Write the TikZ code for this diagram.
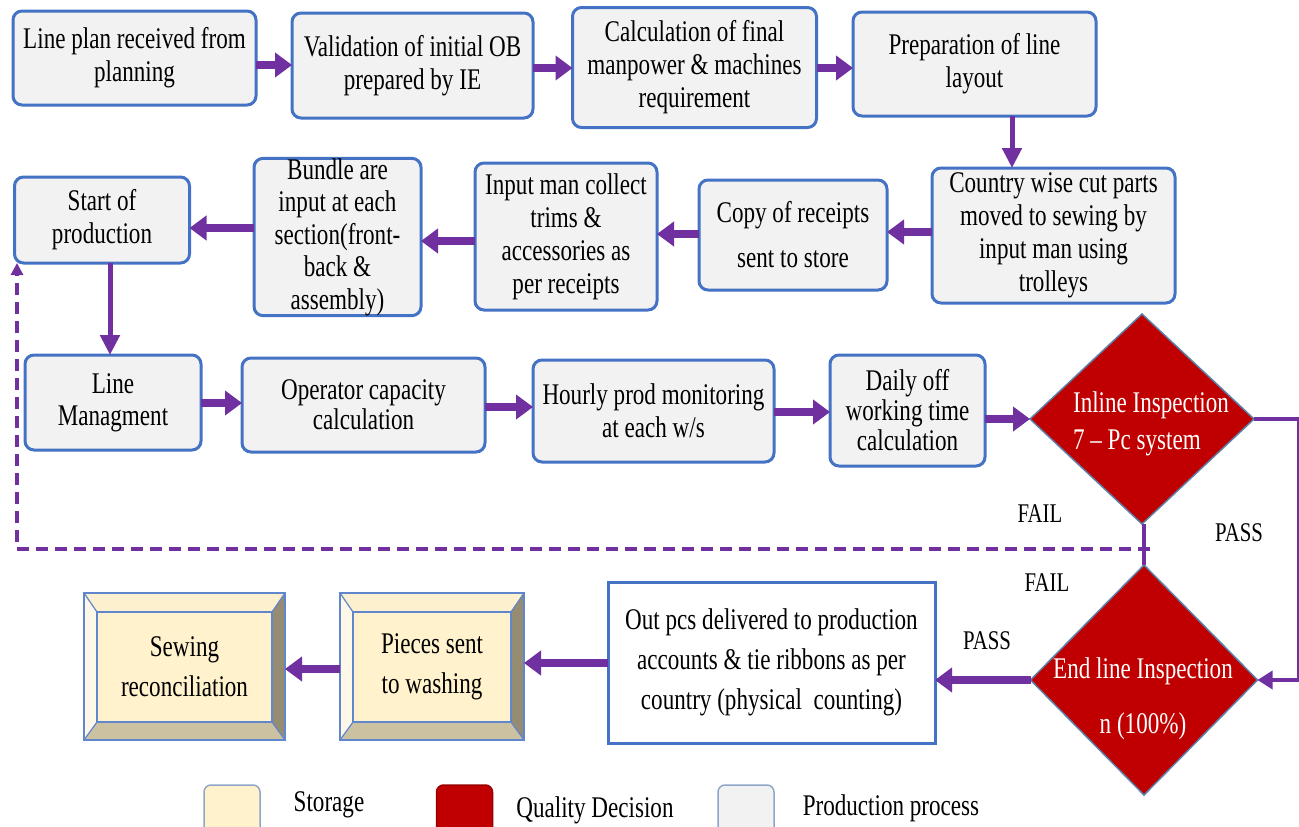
\documentclass[tikz,border=0pt]{standalone}
\usepackage{fontspec}
\setmainfont{Liberation Serif}[FakeStretch=0.77]
\usetikzlibrary{arrows.meta,shapes.geometric,calc}
\definecolor{boxblue}{HTML}{4472C4}
\definecolor{boxgray}{HTML}{F2F2F2}
\definecolor{flowpurple}{HTML}{7030A0}
\definecolor{qred}{HTML}{C00000}
\definecolor{cream}{HTML}{FFF2CC}
\definecolor{bevleft}{HTML}{FFF8E8}
\definecolor{bevtop}{HTML}{FDF0CE}
\definecolor{bevright}{HTML}{968C71}
\definecolor{bevbottom}{HTML}{CCC2A2}
\definecolor{diamondedge}{HTML}{5B7FA6}
\definecolor{legedge}{HTML}{8FA6C8}

\tikzset{
  proc/.style={draw=boxblue, line width=3pt, fill=boxgray, rounded corners=9pt,
    align=center, inner sep=0pt, outer sep=0pt, font=\fontsize{30}{33}\selectfont},
  plainbox/.style={draw=boxblue, line width=3pt, fill=white, align=center,
    inner sep=0pt, outer sep=0pt, font=\fontsize{30}{40}\selectfont},
  storage/.style={fill=cream, align=center, inner sep=0pt, outer sep=0pt,
    font=\fontsize{30}{40}\selectfont},
  bevline/.style={draw=boxblue!85, line width=1.2pt},
  decision/.style={shape=diamond, draw=diamondedge, line width=1.5pt, fill=qred,
    inner sep=0pt, outer sep=0pt},
  dtext/.style={text=white, inner sep=0pt},
  flowlabel/.style={font=\fontsize{27}{30}\selectfont, inner sep=0pt},
  legtext/.style={font=\fontsize{30}{33}\selectfont, inner sep=0pt},
  legsq/.style={rounded corners=7pt, line width=1.5pt, minimum width=56pt,
    minimum height=64pt, inner sep=0pt},
  bigarrow/.style={draw=flowpurple, line width=8pt, -{Triangle[length=17pt,width=24pt]}},
  midarrow/.style={draw=flowpurple, line width=5pt, -{Triangle[length=20pt,width=19pt]}},
  thinline/.style={draw=flowpurple, line width=3.5pt},
  thinarrow/.style={thinline, -{Triangle[length=15pt,width=18pt]}},
  dasharrow/.style={draw=flowpurple, line width=3.5pt, dash pattern=on 12pt off 7pt,
    -{Triangle[length=12pt,width=12pt]}},
}

% bevelled frame around a storage node
\newcommand\bevelframe[1]{%
  \fill[bevleft] (#1.north west) -- ([shift={(13pt,-19pt)}]#1.north west)
    -- ([shift={(13pt,18pt)}]#1.south west) -- (#1.south west) -- cycle;
  \fill[bevtop] (#1.north west) -- (#1.north east)
    -- ([shift={(-13pt,-19pt)}]#1.north east) -- ([shift={(13pt,-19pt)}]#1.north west) -- cycle;
  \fill[bevright] (#1.north east) -- (#1.south east)
    -- ([shift={(-13pt,18pt)}]#1.south east) -- ([shift={(-13pt,-19pt)}]#1.north east) -- cycle;
  \fill[bevbottom] (#1.south west) -- (#1.south east)
    -- ([shift={(-13pt,18pt)}]#1.south east) -- ([shift={(13pt,18pt)}]#1.south west) -- cycle;
  \draw[bevline] (#1.north west) rectangle (#1.south east);
  \draw[bevline] ([shift={(13pt,-19pt)}]#1.north west) rectangle ([shift={(-13pt,18pt)}]#1.south east);
  \draw[bevline] (#1.north west) -- ([shift={(13pt,-19pt)}]#1.north west);
  \draw[bevline] (#1.north east) -- ([shift={(-13pt,-19pt)}]#1.north east);
  \draw[bevline] (#1.south west) -- ([shift={(13pt,18pt)}]#1.south west);
  \draw[bevline] (#1.south east) -- ([shift={(-13pt,18pt)}]#1.south east);
}

\begin{document}
\begin{tikzpicture}[x=1pt,y=-1pt]
\useasboundingbox (0,0) rectangle (1299,827);
\clip (0,0) rectangle (1299,827);
\fill[white] (0,0) rectangle (1299,827);

% first row
\node[proc, minimum width=243, minimum height=94] (A1) at (134.5,58) {Line plan received from\\planning};
\node[proc, minimum width=241, minimum height=105] (A2) at (412.5,65.5) {Validation of initial OB\\prepared by IE};
\node[proc, minimum width=244, minimum height=120] (A3) at (694.5,67.5) {Calculation of final\\manpower \& machines\\requirement};
\node[proc, minimum width=243, minimum height=104] (A4) at (974.5,64) {Preparation of line\\layout};

% second row
\node[proc, minimum width=243, minimum height=135] (B1) at (1053.5,235.5) {Country wise cut parts\\moved to sewing by\\input man using\\trolleys};
\node[proc, minimum width=188, minimum height=110, font=\fontsize{30}{45}\selectfont] (B2) at (793,235) {Copy of receipts\\sent to store};
\node[proc, minimum width=182, minimum height=147] (B3) at (566,236.5) {Input man collect\\trims \&\\accessories as\\per receipts};
\node[proc, minimum width=167, minimum height=156, font=\fontsize{30}{32.5}\selectfont] (B4) at (337.5,237) {Bundle are\\input at each\\section(front-\\back \&\\assembly)};
\node[proc, minimum width=175, minimum height=86] (B5) at (102,220) {Start of\\production};

% third row
\node[proc, minimum width=176, minimum height=95, font=\fontsize{30}{32}\selectfont] (C1) at (113,402.5) {Line\\Managment};
\node[proc, minimum width=243, minimum height=94, font=\fontsize{30}{30}\selectfont] (C2) at (363.5,405) {Operator capacity\\calculation};
\node[proc, minimum width=241, minimum height=102] (C3) at (653.5,411) {Hourly prod monitoring\\at each w/s};
\node[proc, minimum width=155, minimum height=111, font=\fontsize{30}{30}\selectfont] (C4) at (907.5,410.5) {Daily off\\working time\\calculation};

% quality decisions
\node[decision, minimum width=224, minimum height=210] (D1) at (1142,419) {};
\node[dtext, align=left, font=\fontsize{30}{37}\selectfont] (D1t) at (1151,423.5) {Inline Inspection\\7 – Pc system};
\node[decision, minimum width=227, minimum height=230] (D2) at (1144,680) {};
\node[dtext, align=center, font=\fontsize{30}{55}\selectfont] (D2t) at (1143,698.5) {End line Inspection\\n (100\%)};

% last row
\node[plainbox, minimum width=327, minimum height=161] (E1) at (771.5,662.5) {Out pcs delivered to production\\accounts \& tie ribbons as per\\country (physical\ \ counting)};
\node[storage, minimum width=184, minimum height=147] (E2) at (432,666.5) {Pieces sent\\to washing};
\bevelframe{E2}
\node[storage, minimum width=201, minimum height=147] (E3) at (184.5,666.5) {Sewing\\reconciliation};
\bevelframe{E3}

% connectors, first and second row
\draw[bigarrow] (A1.east |- 0,65) -- (A2.west |- 0,65);
\draw[bigarrow] (A2.east |- 0,68) -- (A3.west |- 0,68);
\draw[bigarrow] (A3.east |- 0,68) -- (A4.west |- 0,68);
\draw[midarrow] (A4.south -| 1012,0) -- (B1.north -| 1012,0);
\draw[bigarrow] (B1.west |- 0,232) -- (B2.east |- 0,232);
\draw[bigarrow] (B2.west |- 0,234) -- (B3.east |- 0,234);
\draw[bigarrow] (B3.west |- 0,241) -- (B4.east |- 0,241);
\draw[bigarrow] (B4.west |- 0,228) -- (B5.east |- 0,228);
\draw[midarrow] (B5.south -| 110,0) -- (C1.north -| 110,0);

% third row
\draw[bigarrow] (C1.east |- 0,403) -- (C2.west |- 0,403);
\draw[bigarrow] (C2.east |- 0,407) -- (C3.west |- 0,407);
\draw[bigarrow] (C3.east |- 0,412) -- (C4.west |- 0,412);
\draw[bigarrow] (C4.east |- D1.west) -- (D1.west);

% decisions
\draw[thinline] (D2.north |- D1.south) -- (D2.north);
\draw[thinarrow] (D1.east) -- ++(45,0) |- (D2.east);
\coordinate (fb) at (1150,549);
\coordinate (fl) at (17,549);
\draw[dasharrow] (fb) -- (fl) -- (fl |- B5.south);
\node[flowlabel] (fail1) at (1040,514) {FAIL};
\node[flowlabel] (pass1) at (1239,533) {PASS};
\node[flowlabel] (fail2) at (1047,583) {FAIL};
\node[flowlabel] (pass2) at (987,641) {PASS};

% last row
\draw[bigarrow] (D2.west) -- (D2.west -| E1.east);
\draw[bigarrow] (E1.west |- 0,663) -- (E2.east |- 0,663);
\draw[bigarrow] (E2.west |- 0,669) -- (E3.east |- 0,669);

% legend
\node[legsq, fill=cream, draw=legedge] (legS) at (232,817) {};
\node[legtext] (legSt) at (329,805) {Storage};
\node[legsq, fill=qred, draw=qred!80!black] (legQ) at (464.5,817) {};
\node[legtext] (legQt) at (595,810) {Quality Decision};
\node[legsq, fill=boxgray, draw=legedge] (legP) at (746,817) {};
\node[legtext] (legPt) at (891,808) {Production process};
\end{tikzpicture}
\end{document}
